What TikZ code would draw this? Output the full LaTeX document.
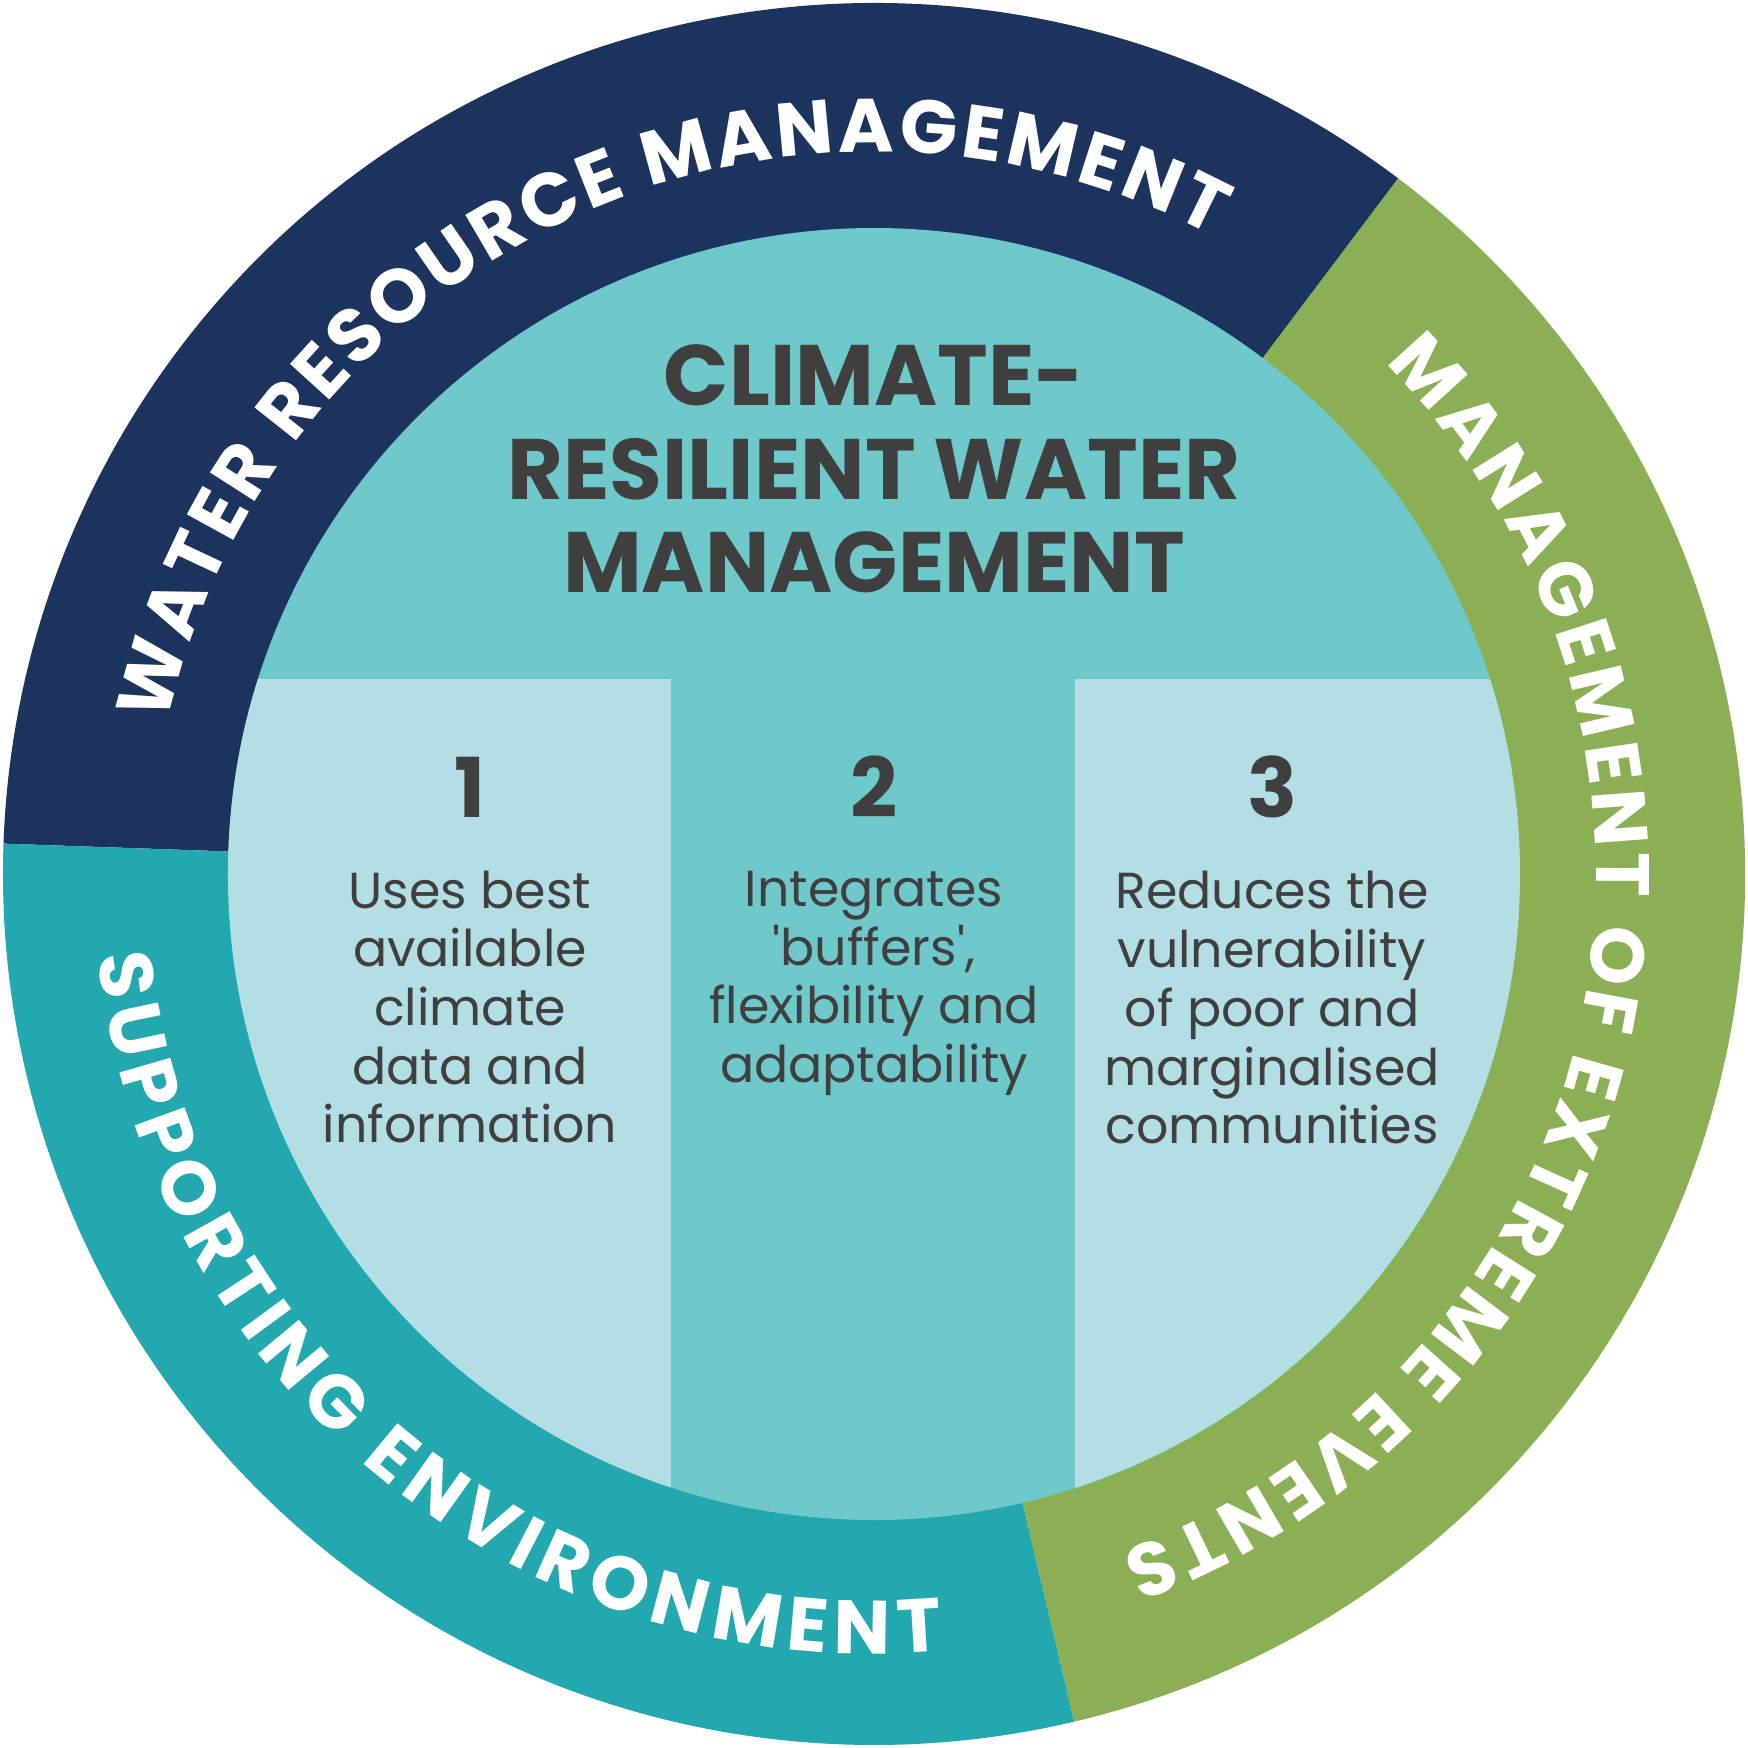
\documentclass[tikz,border=0pt]{standalone}
\usepackage{fontspec}
\setmainfont{Poppins}
\usetikzlibrary{positioning,decorations.text}
\definecolor{navy}{HTML}{1C335E}
\definecolor{leaf}{HTML}{8AAF55}
\definecolor{reef}{HTML}{24A8B0}
\definecolor{pool}{HTML}{6FC9CA}
\definecolor{mist}{HTML}{B3DFE4}
\definecolor{ink}{HTML}{3F3F3F}
\newfontfamily\ringfont{Poppins}
\tikzset{
    %Define style for the ring labels
    ringlabel/.style={
           decorate,
           decoration={text along path,
                       text align=fit to path,
                       text color=white,
                       text={#1}}},
    %Define style for the headline
    headline/.style={
           text=ink,
           font=\bfseries\fontsize{24.4}{26.6}\selectfont,
           align=center,
           inner sep=0pt},
    %Define style for the pillar numbers
    pillarnum/.style={
           text=ink,
           font=\bfseries\fontsize{23.5}{26}\selectfont,
           inner sep=0pt},
    %Define style for the pillar texts
    pillartext/.style={
           text=ink,
           font=\fontsize{14.4}{16.7}\selectfont,
           align=center,
           inner sep=0pt}
}
\begin{document}
\begin{tikzpicture}
\useasboundingbox (-8.74,-8.74) rectangle (8.74,8.74);

%outer ring segments
\fill[navy] (53:8.71) arc[start angle=53, end angle=178, radius=8.71]
  -- (178:6.45) arc[start angle=178, end angle=53, radius=6.45] -- cycle;
\fill[reef] (178:8.71) arc[start angle=178, end angle=283.3, radius=8.71]
  -- (283.3:6.45) arc[start angle=283.3, end angle=178, radius=6.45] -- cycle;
\fill[leaf] (-76.7:8.71) arc[start angle=-76.7, end angle=53, radius=8.71]
  -- (53:6.45) arc[start angle=53, end angle=-76.7, radius=6.45] -- cycle;

%inner disc with the two light pillars
\fill[pool] (0,0) circle[radius=6.46];
\begin{scope}
  \clip (0,0) circle[radius=6.46];
  \fill[mist] (-7,-7) rectangle (-2.03,1.95);
  \fill[mist] (2.01,-7) rectangle (7,1.95);
\end{scope}

%ring labels
\path[ringlabel={|\ringfont\bfseries\fontsize{21.5}{21.5}\selectfont|WATER RESOURCE MANAGEMENT}]
  (168:7.22) arc[start angle=168, end angle=62, radius=7.22];
\path[ringlabel={|\ringfont\bfseries\fontsize{21.5}{21.5}\selectfont|MANAGEMENT OF EXTREME EVENTS}]
  (45:7.22) arc[start angle=45, end angle=-70, radius=7.22];
\path[ringlabel={|\ringfont\bfseries\fontsize{21.5}{21.5}\selectfont|SUPPORTING ENVIRONMENT}]
  (186:7.8) arc[start angle=186, end angle=275, radius=7.8];

%headline
\node[headline] (title) at (0,4.05) {CLIMATE-\\RESILIENT WATER\\MANAGEMENT};

%pillar 1
\node[pillarnum] (num1) at (-4.04,0.87) {1};
\node[pillartext, below=0.52cm of num1] (text1) {Uses best\\available\\climate\\data and\\information};
%pillar 2
\node[pillarnum] (num2) at (0,0.87) {2};
\node[pillartext, below=0.52cm of num2] (text2) {Integrates\\\textquotesingle buffers\textquotesingle,\\flexibility and\\adaptability};
%pillar 3
\node[pillarnum] (num3) at (3.98,0.87) {3};
\node[pillartext, below=0.52cm of num3] (text3) {Reduces the\\vulnerability\\of poor and\\marginalised\\communities};

\end{tikzpicture}
\end{document}
